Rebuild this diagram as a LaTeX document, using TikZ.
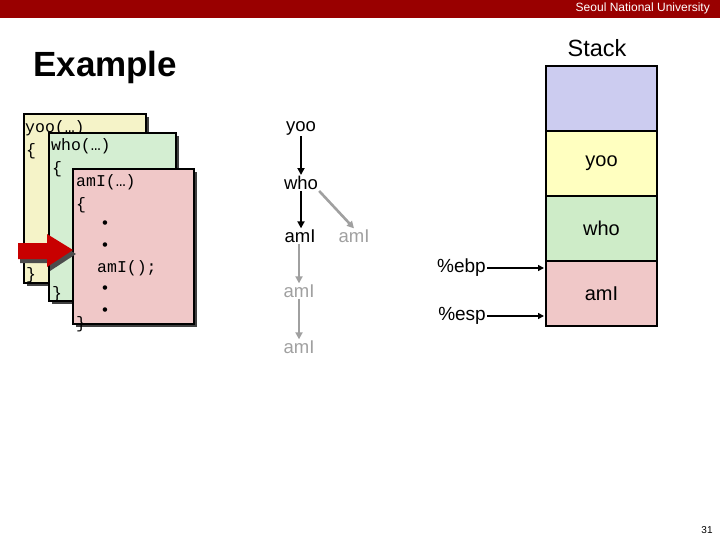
\documentclass[tikz,border=0pt]{standalone}
\usepackage{fontspec}
\setmainfont{Liberation Sans}
\newfontfamily\codefont{Liberation Mono}
\usetikzlibrary{arrows.meta}
\definecolor{barred}{RGB}{153,0,0}
\definecolor{stblue}{RGB}{204,204,240}
\definecolor{styellow}{RGB}{255,255,192}
\definecolor{stgreen}{RGB}{206,236,200}
\definecolor{stpink}{RGB}{240,200,200}
\definecolor{cdyellow}{RGB}{245,243,200}
\definecolor{cdgreen}{RGB}{212,238,210}
\definecolor{cdpink}{RGB}{240,200,200}
\definecolor{arrred}{RGB}{200,0,0}
\definecolor{lightgray}{RGB}{160,160,160}
\tikzset{
  stackcell/.style={draw=black, line width=2.6pt, minimum width=111pt, minimum height=65pt, inner sep=0pt, font=\fontsize{20}{22}\selectfont},
  win/.style={draw=black, line width=1.8pt, inner sep=0pt, anchor=north west},
  winshadow/.style={fill=black!75, draw=none},
  code/.style={font=\codefont\fontsize{16.5}{18}\selectfont, anchor=west, inner sep=0pt},
  tree/.style={font=\fontsize{18.5}{20}\selectfont, inner sep=1pt},
  treegray/.style={tree, text=lightgray},
  blackarr/.style={-{Triangle[length=7pt,width=7pt]}, line width=2.6pt, black},
  grayarr/.style={-{Triangle[length=7pt,width=7pt]}, line width=2.6pt, lightgray},
  reglabel/.style={font=\fontsize{19}{20}\selectfont, inner sep=1pt, anchor=east},
  regarr/.style={-{Triangle[length=6pt,width=6pt]}, line width=2.6pt},
}
\begin{document}
\begin{tikzpicture}[x=1pt,y=-1pt]
\useasboundingbox (0,0) rectangle (720,540);
% top bar
\fill[barred] (0,0) rectangle (720,18);
\node[anchor=east, text=white, font=\fontsize{12}{13}\selectfont, inner sep=0pt] (uni) at (710,8) {Seoul National University};
% titles
\node[anchor=west, font=\bfseries\fontsize{35}{38}\selectfont, inner sep=0pt] (title) at (33,67) {Example};
\node[font=\fontsize{23.5}{25}\selectfont, inner sep=0pt] (stacklbl) at (597,48) {Stack};
% stack
\node[stackcell, fill=stblue] (s0) at (601.5,98.5) {};
\node[stackcell, fill=styellow] (s1) at (601.5,163.5) {yoo};
\node[stackcell, fill=stgreen] (s2) at (601.5,228.5) {who};
\node[stackcell, fill=stpink] (s3) at (601.5,293.5) {amI};
% registers
\node[reglabel] (ebp) at (487,268) {\%ebp};
\node[reglabel] (esp) at (487,316) {\%esp};
\coordinate (ebpend) at (544,268);
\coordinate (espend) at (544,316);
\draw[regarr] (ebp.east) -- (ebpend);
\draw[regarr] (esp.east) -- (espend);
% code windows: yoo
\fill[winshadow] (27,117) rectangle (149,286);
\node[win, fill=cdyellow, minimum width=122pt, minimum height=169pt] (wyoo) at (23,113) {};
\node[code] (y1) at (25,128) {yoo(…)};
\node[code] (y2) at (26,151) {\{};
\node[code] (y3) at (26,275) {\}};
% who
\fill[winshadow] (52,136) rectangle (179,304);
\node[win, fill=cdgreen, minimum width=127pt, minimum height=168pt] (wwho) at (48,132) {};
\node[code] (w1) at (51,146) {who(…)};
\node[code] (w2) at (52,169) {\{};
\node[code] (w3) at (52,294) {\}};
% amI
\fill[winshadow] (76,172) rectangle (197,327);
\node[win, fill=cdpink, minimum width=121pt, minimum height=155pt] (wami) at (72,168) {};
\node[code] (a1) at (76,182) {amI(…)};
\node[code] (a2) at (76,205) {\{};
\node[code] (a3) at (100,225) {•};
\node[code] (a4) at (100,247) {•};
\node[code] (a5) at (97,268) {amI();};
\node[code] (a6) at (100,290) {•};
\node[code] (a7) at (100,312) {•};
\node[code] (a8) at (76,324) {\}};
% red pointer arrow
\fill[black!70] (20,247) -- (50,247) -- (50,238) -- (76,254) -- (50,271) -- (50,263) -- (20,263) -- cycle;
\fill[arrred] (18,243) -- (47,243) -- (47,234) -- (73,250) -- (47,267) -- (47,259) -- (18,259) -- cycle;
% call tree
\node[tree] (tyoo) at (301,128) {yoo};
\node[tree] (twho) at (301,183) {who};
\node[tree] (tami) at (300,236) {amI};
\node[treegray] (tami2) at (354,236) {amI};
\node[treegray] (tami3) at (299,291) {amI};
\node[treegray] (tami4) at (299,347) {amI};
\draw[blackarr] (tyoo) -- (tyoo |- twho.north);
\draw[blackarr] (twho) -- (twho |- tami.north);
\draw[grayarr] (twho.south east) -- (tami2.north);
\draw[grayarr] (tami.south -| tami3) -- (tami3);
\draw[grayarr] (tami3) -- (tami4);
% page number
\node[font=\fontsize{10}{12}\selectfont, inner sep=0pt] (pg) at (707,530) {31};
\end{tikzpicture}
\end{document}
